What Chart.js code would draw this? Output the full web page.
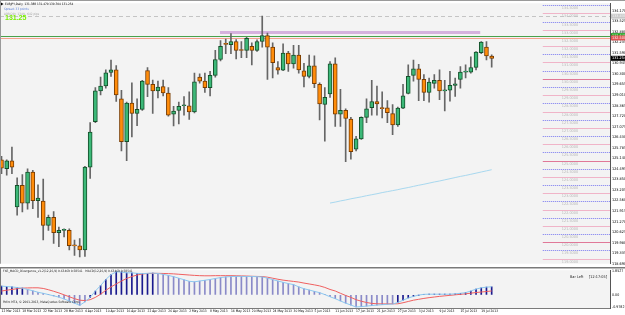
<!DOCTYPE html>
<html>
<head>
<meta charset="utf-8">
<script src="https://cdn.jsdelivr.net/npm/chart.js@4/dist/chart.umd.min.js"></script>
<style>
  body { margin: 0; background: #fff; width: 625px; height: 315px; overflow: hidden; position: relative; }
  #main { position: absolute; left: 0; top: 0; }
  #sub { position: absolute; left: 0; top: 267px; }
</style>
</head>
<body>
<canvas id="main" width="625" height="267"></canvas>
<canvas id="sub" width="625" height="48"></canvas>
<script>
// EURJPY daily bars
const opens = [125.05,124.50,124.99,122.16,123.49,122.40,124.30,122.55,122.52,121.03,121.52,120.59,120.73,120.73,119.79,119.78,119.54,124.60,127.38,129.26,129.56,130.39,130.55,128.77,126.15,128.51,127.88,128.13,130.51,129.66,129.26,129.52,129.13,127.83,128.07,128.35,128.35,127.97,130.11,129.86,129.46,130.21,131.18,132.12,132.08,132.28,131.74,131.74,131.98,131.74,132.28,132.64,131.94,130.69,130.53,131.58,130.91,131.45,130.49,130.14,130.79,129.66,128.43,129.07,130.91,127.83,128.07,127.54,125.69,126.33,127.64,128.23,128.61,128.19,128.23,127.87,127.18,128.21,129.10,130.20,130.61,129.96,129.16,129.72,129.90,129.26,129.30,129.60,129.96,130.41,130.41,130.69,131.60,131.94,131.388];
const highs = [125.26,125.05,125.83,123.95,124.14,124.50,124.40,123.51,123.86,121.66,121.88,120.93,120.83,120.83,120.14,120.23,124.64,127.32,129.46,130.10,130.55,131.15,130.81,129.30,128.57,129.76,128.77,129.90,130.69,129.92,129.86,129.92,129.46,128.31,128.57,128.92,129.20,130.35,130.30,130.35,130.45,131.74,132.34,132.43,132.77,132.40,132.28,132.54,132.20,132.38,133.83,132.79,132.20,131.05,132.14,131.68,132.04,132.04,130.95,131.45,131.40,129.76,129.46,131.05,131.29,129.36,128.17,127.64,126.48,127.67,128.77,129.90,129.56,129.20,128.67,128.43,128.27,129.66,130.85,131.15,130.89,130.26,130.05,130.26,130.55,129.90,130.45,130.05,130.75,130.85,131.35,131.66,132.28,132.28,131.470];
const lows = [124.20,124.10,124.20,121.66,121.86,122.02,122.06,121.52,120.14,120.73,119.93,119.74,120.33,119.54,119.20,119.10,119.14,123.91,127.32,129.02,129.42,130.15,128.61,125.59,124.99,126.45,127.14,128.07,128.90,127.88,128.83,128.96,127.71,127.12,127.24,127.77,127.52,127.91,129.74,129.16,128.96,130.10,131.09,131.54,131.54,131.21,131.29,131.29,130.85,131.68,131.94,129.96,130.05,130.29,130.49,130.45,130.65,130.35,129.50,130.05,129.46,127.48,126.19,128.86,127.08,127.08,124.93,125.09,125.59,126.29,127.32,127.77,127.77,127.60,127.32,126.58,127.08,128.17,129.07,129.86,128.67,128.67,128.57,129.42,128.73,128.03,128.63,128.92,129.42,130.05,130.35,130.55,131.54,131.15,130.704];
const closes = [124.54,124.99,124.60,123.49,122.40,124.30,122.55,122.71,121.03,121.52,120.59,120.73,120.74,119.80,119.78,119.54,124.60,126.74,129.26,129.56,130.37,130.55,129.02,126.15,128.51,127.88,128.13,129.86,129.66,129.26,129.50,129.13,127.77,128.03,128.31,128.36,127.97,129.82,129.86,129.46,130.21,131.18,131.98,132.11,132.28,131.74,131.73,132.48,131.74,132.28,132.64,131.94,130.99,130.53,131.58,130.91,131.45,130.55,130.14,130.79,129.70,128.47,128.86,130.91,127.83,128.07,127.58,125.55,126.33,127.64,128.17,128.61,128.47,128.18,127.93,127.18,128.21,128.96,130.15,130.61,129.96,129.16,129.80,129.90,129.26,129.27,129.60,129.70,130.41,130.42,130.69,131.64,132.24,131.40,131.254];

// slow moving average (light blue), starts at bar 63
const maStart = 63;
const maValues = [122.40,122.46,122.53,122.59,122.66,122.72,122.78,122.85,122.91,122.97,123.04,123.10,123.16,123.22,123.29,123.35,123.42,123.49,123.55,123.62,123.69,123.75,123.82,123.89,123.96,124.03,124.09,124.16,124.23,124.30,124.37,124.44];

// MACD(12,26,9) sub window
const macdMain = [0.68,0.65,0.62,0.57,0.52,0.42,0.32,0.20,0.12,0.02,-0.08,-0.18,-0.32,-0.48,-0.65,-0.82,-0.55,-0.20,0.30,0.72,1.20,1.58,1.80,1.78,1.72,1.72,1.68,1.66,1.68,1.70,1.67,1.60,1.52,1.42,1.30,1.18,1.06,1.02,1.08,1.14,1.20,1.28,1.35,1.40,1.43,1.44,1.44,1.43,1.44,1.42,1.40,1.30,1.20,1.08,0.98,0.88,0.80,0.62,0.48,0.38,0.27,0.17,0.02,-0.15,-0.30,-0.48,-0.65,-0.80,-0.95,-0.92,-0.88,-0.84,-0.80,-0.77,-0.74,-0.72,-0.60,-0.42,-0.25,-0.12,-0.02,0.04,0.05,0.05,0.05,0.05,0.05,0.08,0.12,0.17,0.30,0.45,0.55,0.60,0.63];
const macdSignal = [0.30,0.36,0.42,0.48,0.52,0.54,0.55,0.55,0.50,0.40,0.28,0.15,0.00,-0.15,-0.30,-0.42,-0.45,-0.38,-0.20,0.05,0.35,0.62,0.85,1.08,1.28,1.43,1.55,1.63,1.67,1.68,1.68,1.67,1.66,1.64,1.61,1.58,1.55,1.52,1.50,1.49,1.49,1.50,1.50,1.50,1.50,1.49,1.48,1.47,1.45,1.44,1.43,1.38,1.30,1.22,1.15,1.10,1.05,1.00,0.92,0.85,0.78,0.70,0.58,0.42,0.30,0.12,-0.05,-0.20,-0.38,-0.50,-0.60,-0.67,-0.70,-0.71,-0.71,-0.70,-0.70,-0.62,-0.52,-0.42,-0.35,-0.28,-0.22,-0.17,-0.12,-0.08,-0.04,0.00,0.04,0.08,0.13,0.18,0.22,0.26,0.30];

// axis labels
const dateTicks = ["12 Mar 2013","18 Mar 2013","22 Mar 2013","28 Mar 2013","4 Apr 2013","10 Apr 2013","16 Apr 2013","22 Apr 2013","26 Apr 2013","2 May 2013","8 May 2013","14 May 2013","20 May 2013","24 May 2013","30 May 2013","5 Jun 2013","11 Jun 2013","17 Jun 2013","21 Jun 2013","27 Jun 2013","3 Jul 2013","9 Jul 2013","15 Jul 2013","19 Jul 2013"];
const priceTicks = [134.170,133.525,132.880,132.235,131.590,130.945,130.300,129.655,129.010,128.365,127.720,127.075,126.430,125.785,125.140,124.495,123.850,123.205,122.560,121.915,121.270,120.625,119.980,119.335,118.690];
const macdTicks = [1.8527, 0, -0.9782];

// horizontal objects
const levelLines = [134.5,134.0,133.5,133.0,132.5,132.0,131.5,131.0,130.5,130.0,129.5,129.0,128.5,128.0,127.5,127.0,126.5,126.0,125.5,125.0,124.5,124.0,123.5,123.0,122.5,122.0,121.5,121.0,120.5,120.0,119.5,119.0];
const rangeHigh = 133.83;
const greenLevel = 132.64;
const redLevel = 132.50;
const zoneLevel = 132.83;
const zoneFrom = 41.9, zoneTo = 91.8;
const levelFrom = 103.8;

const FONT = '"Liberation Sans Narrow", "DejaVu Sans Condensed", "Liberation Sans", sans-serif';
const X_MIN = -0.288, X_MAX = 116.69;
const bull = (i) => closes[i] >= opens[i];

const mainDecor = {
  id: 'mainDecor',
  beforeDraw(chart) {
    const { ctx, chartArea: a } = chart;
    ctx.save();
    ctx.fillStyle = '#f3f3f3';
    ctx.fillRect(a.left, a.top, a.right - a.left, a.bottom - a.top);
    ctx.restore();
  },
  beforeDatasetsDraw(chart) {
    const { ctx, chartArea: a } = chart;
    const xs = chart.scales.x, ys = chart.scales.y;
    ctx.save();
    // level grid on the right
    const lx = xs.getPixelForValue(levelFrom);
    levelLines.forEach((v) => {
      const y = Math.round(ys.getPixelForValue(v)) + 0.5;
      const half = Math.abs(v - Math.round(v)) > 0.1;
      ctx.beginPath();
      ctx.setLineDash(half ? [1, 1] : []);
      ctx.strokeStyle = half ? '#7878f0' : (v % 5 === 0 ? '#e07898' : '#f0b4c8');
      ctx.lineWidth = 1;
      ctx.moveTo(lx, y);
      ctx.lineTo(a.right, y);
      ctx.stroke();
      ctx.setLineDash([]);
      ctx.fillStyle = '#b8b8b8';
      ctx.font = '3.8px ' + FONT;
      ctx.textBaseline = 'middle';
      ctx.fillText(v.toFixed(4), lx + 19, y + 2.5);
    });
    // dashed range high
    let y = Math.round(ys.getPixelForValue(rangeHigh)) + 0.5;
    ctx.beginPath();
    ctx.setLineDash([4, 3]);
    ctx.strokeStyle = '#c4c4c4';
    ctx.moveTo(a.left, y); ctx.lineTo(a.right, y); ctx.stroke();
    ctx.setLineDash([]);
    // green / red lines
    y = Math.round(ys.getPixelForValue(greenLevel)) + 0.5;
    ctx.beginPath(); ctx.strokeStyle = '#4aa04a';
    ctx.moveTo(a.left, y); ctx.lineTo(a.right, y); ctx.stroke();
    y = Math.round(ys.getPixelForValue(redLevel)) + 0.5;
    ctx.beginPath(); ctx.strokeStyle = '#f4a08c';
    ctx.moveTo(a.left, y); ctx.lineTo(a.right, y); ctx.stroke();
    // lavender zone line
    y = ys.getPixelForValue(zoneLevel);
    ctx.beginPath(); ctx.strokeStyle = '#d6b2de'; ctx.lineWidth = 3;
    ctx.moveTo(xs.getPixelForValue(zoneFrom), y); ctx.lineTo(xs.getPixelForValue(zoneTo), y); ctx.stroke();
    ctx.restore();
  },
  afterDraw(chart) {
    const { ctx, chartArea: a } = chart;
    const ys = chart.scales.y;
    ctx.save();
    // frame
    ctx.fillStyle = '#9a9a9a';
    ctx.fillRect(0, 0, chart.width, 1);
    ctx.fillRect(0, 0, 1, a.bottom);
    // header texts
    ctx.textBaseline = 'middle';
    ctx.fillStyle = '#000';
    ctx.beginPath(); ctx.moveTo(1, 2.5); ctx.lineTo(3.5, 4); ctx.lineTo(1, 5.5); ctx.fill();
    ctx.font = '3.1px ' + FONT;
    ctx.fillText('EURJPY,Daily  131.388 131.470 130.704 131.254', 5, 4);
    ctx.fillStyle = '#5b82da';
    ctx.fillText('Spread: 33 points', 4, 9.5);
    ctx.fillStyle = '#a6a6a6';
    ctx.fillText('ADR(20)  134%  642 pips', 4, 14);
    ctx.fillStyle = '#78f000';
    ctx.font = 'bold 7px "Liberation Sans", sans-serif';
    ctx.fillText('131.25', 5, 18.5);
    // price tags on the axis
    const tag = (v, bg, fg, txt) => {
      const ty = ys.getPixelForValue(v);
      ctx.fillStyle = bg;
      ctx.fillRect(a.right + 1, ty - 2.5, 14, 5);
      ctx.fillStyle = fg;
      ctx.font = '3.8px ' + FONT;
      ctx.fillText(txt, a.right + 2, ty);
    };
    tag(rangeHigh, '#c8c8c8', '#f4f4f4', rangeHigh.toFixed(3));
    tag(greenLevel, '#20a020', '#e8ffe8', greenLevel.toFixed(3));
    tag(redLevel, '#e05050', '#fff0f0', redLevel.toFixed(3));
    tag(closes[closes.length - 1], '#000', '#fff', closes[closes.length - 1].toFixed(3));
    ctx.restore();
  }
};

new Chart(document.getElementById('main'), {
  type: 'bar',
  data: {
    datasets: [
      {
        type: 'bar',
        data: opens.map((o, i) => ({ x: i, y: [o, closes[i]] })),
        backgroundColor: opens.map((o, i) => bull(i) ? '#3cb878' : '#ff8c0a'),
        borderColor: opens.map((o, i) => bull(i) ? '#14502a' : '#7a3c00'),
        borderWidth: 1,
        borderSkipped: false,
        barThickness: 4,
        minBarLength: 1,
        grouped: false,
        order: 0
      },
      {
        type: 'line',
        data: maValues.map((v, k) => ({ x: maStart + k, y: v })),
        borderColor: '#a8d8ef',
        borderWidth: 1,
        pointRadius: 0,
        order: 1
      },
      {
        type: 'bar',
        data: lows.map((l, i) => ({ x: i, y: [l, highs[i]] })),
        backgroundColor: '#666',
        barThickness: 1,
        grouped: false,
        order: 2
      }
    ]
  },
  options: {
    responsive: false,
    animation: false,
    events: [],
    layout: { padding: 0 },
    plugins: { legend: { display: false }, tooltip: { enabled: false } },
    scales: {
      x: { type: 'linear', min: X_MIN, max: X_MAX, display: false, offset: false },
      y: {
        position: 'right',
        min: 118.69, max: 134.619,
        afterFit: (s) => { s.width = 15; },
        afterBuildTicks: (s) => { s.ticks = priceTicks.map((v) => ({ value: v })); },
        grid: { drawOnChartArea: false, tickLength: 1, color: '#444' },
        border: { color: '#555' },
        ticks: { callback: (v) => Number(v).toFixed(3), font: { family: FONT, size: 3.8 }, color: '#000', padding: 1 }
      }
    }
  },
  plugins: [mainDecor]
});

const subDecor = {
  id: 'subDecor',
  beforeDraw(chart) {
    const { ctx, chartArea: a } = chart;
    ctx.save();
    ctx.fillStyle = '#f3f3f3';
    ctx.fillRect(a.left, a.top, a.right - a.left, a.bottom - a.top);
    ctx.restore();
  },
  afterDraw(chart) {
    const { ctx, chartArea: a } = chart;
    ctx.save();
    ctx.fillStyle = '#7a7a7a';
    ctx.fillRect(0, 0, chart.width, 1.5);
    ctx.fillRect(0, 0, 1, a.bottom);
    ctx.fillRect(0, a.bottom, a.right, 1);
    ctx.textBaseline = 'middle';
    ctx.fillStyle = '#222';
    ctx.font = '3.2px ' + FONT;
    ctx.fillText('FXE_MACD_Divergence_v1.2(12,26,9) 0.63469 0.58541   MACD(12,26,9) 0.63469 0.58541', 3, 4.5);
    ctx.fillText('Pofro MT4, \u00a9 2001-2013, MetaQuotes Software Corp.', 3, 35.5);
    ctx.font = '3.8px ' + FONT;
    ctx.fillText('Bar Left', 570, 10);
    ctx.fillText('[12:17:05]', 589, 10);
    ctx.restore();
  }
};

new Chart(document.getElementById('sub'), {
  type: 'bar',
  data: {
    datasets: [
      {
        type: 'line',
        data: macdMain.map((v, i) => ({ x: i, y: v })),
        borderColor: '#8cc8f0',
        borderWidth: 1,
        pointRadius: 0,
        order: 0
      },
      {
        type: 'line',
        data: macdSignal.map((v, i) => ({ x: i, y: v })),
        borderColor: '#f06060',
        borderWidth: 1,
        pointRadius: 0,
        order: 1
      },
      {
        type: 'bar',
        data: macdMain.map((v, i) => ({ x: i, y: v })),
        backgroundColor: macdMain.map((v, i) => v >= macdSignal[i] ? '#1a1a8e' : '#8a8ac8'),
        barThickness: 1,
        grouped: false,
        order: 2
      }
    ]
  },
  options: {
    responsive: false,
    animation: false,
    events: [],
    layout: { padding: { top: 1 } },
    plugins: { legend: { display: false }, tooltip: { enabled: false } },
    scales: {
      x: {
        type: 'linear', min: X_MIN, max: X_MAX, offset: false,
        afterFit: (s) => { s.height = 7; },
        afterBuildTicks: (s) => { s.ticks = dateTicks.map((d, k) => ({ value: k * 4 })); },
        grid: { drawOnChartArea: false, tickLength: 1, color: '#444' },
        border: { color: '#555' },
        ticks: {
          callback: (v, idx) => dateTicks[idx],
          align: 'start', maxRotation: 0, autoSkip: false,
          font: { family: FONT, size: 3.3 }, color: '#000', padding: 0
        }
      },
      y: {
        position: 'right',
        min: -1.03, max: 1.93,
        afterFit: (s) => { s.width = 15; },
        afterBuildTicks: (s) => { s.ticks = macdTicks.map((v) => ({ value: v })); },
        grid: { drawOnChartArea: false, tickLength: 1, color: '#444' },
        border: { color: '#555' },
        ticks: { callback: (v) => v === 0 ? '0.00' : String(v), font: { family: FONT, size: 3.6 }, color: '#000', padding: 1 }
      }
    }
  },
  plugins: [subDecor]
});
</script>
</body>
</html>
